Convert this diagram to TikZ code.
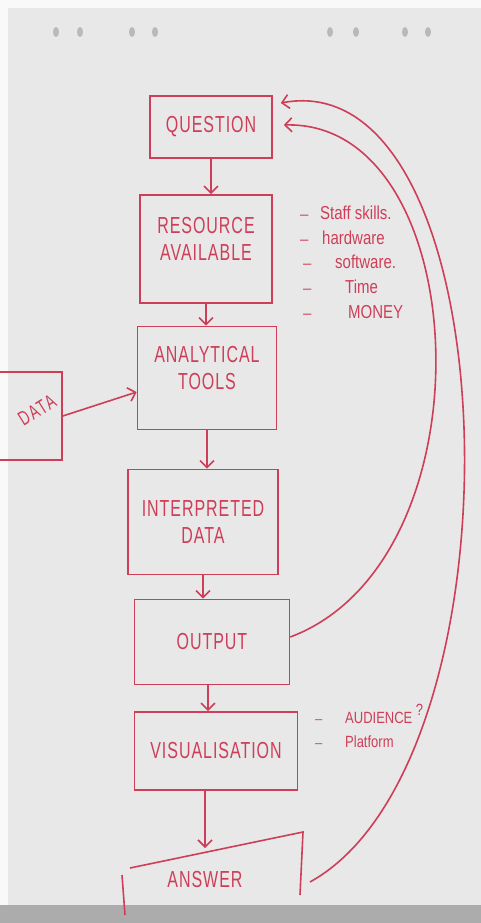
\documentclass[tikz,border=0pt]{standalone}
\usepackage{fontspec}
\setmainfont{Liberation Sans}
\usetikzlibrary{arrows.meta}
\definecolor{ink}{RGB}{206,62,88}
\definecolor{paper}{RGB}{232,232,232}
% tall marker-style lettering
\newcommand{\tall}[1]{\scalebox{1}[1.45]{#1}}
\newcommand{\semitall}[1]{\scalebox{1}[1.25]{#1}}
% a dash followed by a gap of given width
\newcommand{\bullitem}[2]{\makebox[#1][l]{--}\semitall{#2}}
\begin{document}
\begin{tikzpicture}[x=1pt,y=-1pt,
  ink line/.style={draw=ink, line width=1.6pt},
  stepbox/.style={ink line, rectangle, align=center, text=ink, inner sep=0pt,
    font=\fontsize{16}{27}\selectfont\addfontfeature{LetterSpace=6}},
  flow/.style={ink line, -{Straight Barb[length=7pt,width=14pt]}},
  note/.style={text=ink, anchor=west, inner sep=0pt, font=\fontsize{15}{17}\selectfont}]
  % sheet and surroundings
  \useasboundingbox (0,0) rectangle (481,923);
  \fill[paper] (0,0) rectangle (481,923);
  \fill[white!95!gray] (0,0) rectangle (481,8);
  \fill[white!95!gray] (0,0) rectangle (8,923);
  \fill[gray!65] (0,905) rectangle (481,923);
  \foreach \hx in {56,80,132,155,330,356,405,428}
    \fill[gray!55] (\hx,32) ellipse (3pt and 5pt);

  % flow boxes
  \node[stepbox, minimum width=122, minimum height=62] (q) at (211,127) {\tall{QUESTION}};
  \node[stepbox, minimum width=132, minimum height=108] (r) at (206,249) {\tall{RESOURCE}\\\tall{AVAILABLE}\\[-6pt]};
  \node[stepbox, minimum width=139, minimum height=103] (a) at (207,378) {\tall{ANALYTICAL}\\\tall{TOOLS}\\[-6pt]};
  \node[stepbox, minimum width=80, minimum height=88] (d) at (22,416) {};
  \node[text=ink, rotate=32, inner sep=0pt, font=\fontsize{14}{16}\selectfont\addfontfeature{LetterSpace=12}] (dl) at (37,410) {\tall{DATA}};
  \node[stepbox, minimum width=150, minimum height=105] (i) at (203,522) {\tall{INTERPRETED}\\\tall{DATA}};
  \node[stepbox, minimum width=155, minimum height=85] (o) at (212,642) {\tall{OUTPUT}};
  \node[stepbox, minimum width=163, minimum height=78] (v) at (216,751) {\tall{VISUALISATION}};
  \node[stepbox, draw=none, minimum width=150, minimum height=40] (ans) at (205,880) {\tall{ANSWER}};
  % open frame around the answer
  \coordinate (atl) at (130,868);
  \coordinate (atr) at (303,832);
  \coordinate (abr) at (300,895);
  \coordinate (alt) at (122,875);
  \coordinate (alb) at (125,915);
  \draw[ink line] (atl) -- (atr) -- (abr);
  \draw[ink line] (alt) -- (alb);
  \coordinate (atop) at (205,848);
  \coordinate (aout) at (310,882);

  % arrows between boxes
  \draw[flow] (q.south) -- (q.south |- r.north);
  \draw[flow] (r.south) -- (r.south |- a.north);
  \draw[flow] (d.east) -- ([yshift=-14]a.west);
  \draw[flow] (a.south) -- (a.south |- i.north);
  \draw[flow] (i.south) -- (i.south |- o.north);
  \draw[flow] ([xshift=-4]o.south) -- ([xshift=-4]o.south |- v.north);
  \draw[flow] ([xshift=-11]v.south) -- (atop);

  % feedback loops back to the question
  \draw[flow] ([yshift=5]o.east) .. controls (495,560) and (475,120) .. ([xshift=11,yshift=2]q.east);
  \draw[flow] (aout) .. controls (530,760) and (510,60) .. ([xshift=8,yshift=24]q.east);

  % notes
  \node[note] (n1) at (300,213) {\bullitem{20pt}{Staff skills.}};
  \node[note] (n2) at (300,238) {\bullitem{22pt}{hardware}};
  \node[note] (n3) at (303,262) {\bullitem{32pt}{software.}};
  \node[note] (n4) at (303,287) {\bullitem{42pt}{Time}};
  \node[note] (n5) at (303,312) {\bullitem{45pt}{MONEY}};
  \node[note, font=\fontsize{13}{15}\selectfont] (n6) at (315,714) {\bullitem{30pt}{AUDIENCE \raisebox{6pt}{?}}};
  \node[note, font=\fontsize{13}{15}\selectfont] (n7) at (315,742) {\bullitem{30pt}{Platform}};
\end{tikzpicture}
\end{document}
